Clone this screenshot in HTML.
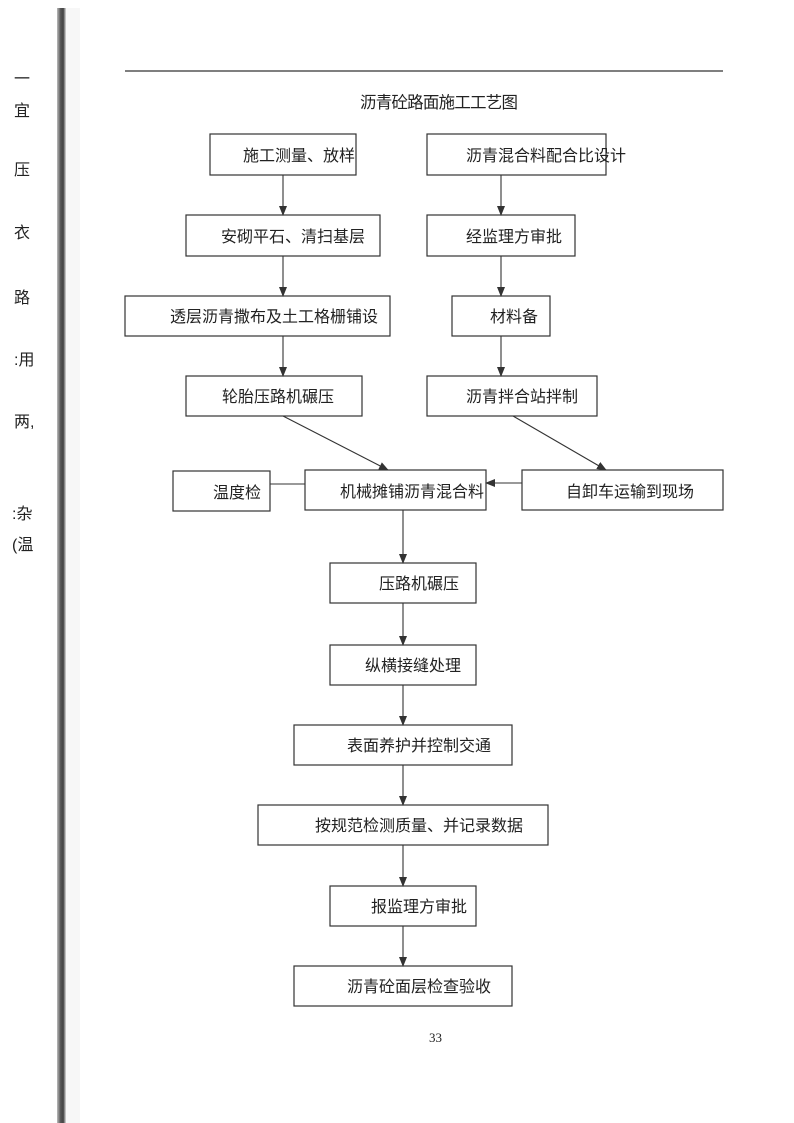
<!DOCTYPE html>
<html><head><meta charset="utf-8"><style>
html,body{margin:0;padding:0;background:#fff;}
svg{display:block}
text{font-family:"Liberation Sans","Noto Sans CJK SC",sans-serif;fill:#222;}
</style></head><body>
<svg width="794" height="1123" viewBox="0 0 794 1123" xmlns="http://www.w3.org/2000/svg">
<defs>
<linearGradient id="bar" x1="0" x2="1" y1="0" y2="0">
<stop offset="0" stop-color="#bbb"/><stop offset="0.4" stop-color="#555"/><stop offset="0.7" stop-color="#444"/><stop offset="1" stop-color="#ddd"/>
</linearGradient>
<marker id="a" markerWidth="10" markerHeight="8" refX="9" refY="4" orient="auto" markerUnits="userSpaceOnUse">
<path d="M0,0 L10,4 L0,8 Z" fill="#333"/></marker>
</defs>
<rect x="57" y="8" width="9" height="1115" fill="url(#bar)"/>
<rect x="66" y="8" width="14" height="1115" fill="#f2f2f2" opacity="0.6"/>
<g font-size="16">
<text x="14" y="84">一</text>
<text x="14" y="116">宜</text>
<text x="14" y="175">压</text>
<text x="14" y="238">衣</text>
<text x="14" y="303">路</text>
<text x="14" y="365">:用</text>
<text x="14" y="427">两,</text>
<text x="12" y="519">:杂</text>
<text x="12" y="550">(温</text>
</g>
<line x1="125" y1="71" x2="723" y2="71" stroke="#333" stroke-width="1.3"/>
<text x="360" y="108" font-size="16.5" textLength="158">沥青砼路面施工工艺图</text>
<g fill="none" stroke="#333" stroke-width="1.2">
<rect x="210" y="134" width="146" height="41"/>
<rect x="427" y="134" width="179" height="41"/>
<rect x="186" y="215" width="194" height="41"/>
<rect x="427" y="215" width="148" height="41"/>
<rect x="125" y="296" width="265" height="40"/>
<rect x="452" y="296" width="98" height="40"/>
<rect x="186" y="376" width="176" height="40"/>
<rect x="427" y="376" width="170" height="40"/>
<rect x="173" y="471" width="97" height="40"/>
<rect x="305" y="470" width="181" height="40"/>
<rect x="522" y="470" width="201" height="40"/>
<rect x="330" y="563" width="146" height="40"/>
<rect x="330" y="645" width="146" height="40"/>
<rect x="294" y="725" width="218" height="40"/>
<rect x="258" y="805" width="290" height="40"/>
<rect x="330" y="886" width="146" height="40"/>
<rect x="294" y="966" width="218" height="40"/>
</g>
<g stroke="#333" stroke-width="1.1" marker-end="url(#a)">
<line x1="283" y1="175" x2="283" y2="215"/>
<line x1="283" y1="256" x2="283" y2="296"/>
<line x1="283" y1="336" x2="283" y2="376"/>
<line x1="501" y1="175" x2="501" y2="215"/>
<line x1="501" y1="256" x2="501" y2="296"/>
<line x1="501" y1="336" x2="501" y2="376"/>
<line x1="283" y1="416" x2="388" y2="470"/>
<line x1="513" y1="416" x2="606" y2="470"/>
<line x1="522" y1="483" x2="486" y2="483"/>
<line x1="403" y1="510" x2="403" y2="563"/>
<line x1="403" y1="603" x2="403" y2="645"/>
<line x1="403" y1="685" x2="403" y2="725"/>
<line x1="403" y1="765" x2="403" y2="805"/>
<line x1="403" y1="845" x2="403" y2="886"/>
<line x1="403" y1="926" x2="403" y2="966"/>
</g>
<line x1="270" y1="484" x2="305" y2="484" stroke="#333" stroke-width="1.1"/>
<g font-size="16">
<text x="243" y="161">施工测量、放样</text>
<text x="466" y="161">沥青混合料配合比设计</text>
<text x="221" y="242">安砌平石、清扫基层</text>
<text x="466" y="242">经监理方审批</text>
<text x="170" y="322">透层沥青撒布及土工格栅铺设</text>
<text x="490" y="322">材料备</text>
<text x="222" y="402">轮胎压路机碾压</text>
<text x="466" y="402">沥青拌合站拌制</text>
<text x="213" y="498">温度检</text>
<text x="340" y="497">机械摊铺沥青混合料</text>
<text x="566" y="497">自卸车运输到现场</text>
<text x="379" y="589">压路机碾压</text>
<text x="365" y="671">纵横接缝处理</text>
<text x="347" y="751">表面养护并控制交通</text>
<text x="315" y="831">按规范检测质量、并记录数据</text>
<text x="371" y="912">报监理方审批</text>
<text x="347" y="992">沥青砼面层检查验收</text>
</g>
<text x="429" y="1042" font-size="13" style="font-family:'Liberation Serif',serif">33</text>
</svg>
</body></html>
